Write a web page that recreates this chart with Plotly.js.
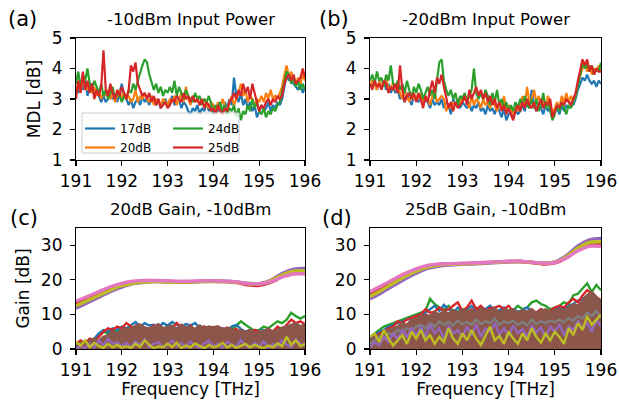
<!DOCTYPE html>
<html><head><meta charset="utf-8">
<script src="https://cdn.plot.ly/plotly-3.0.1.min.js"></script>
<style>html,body{margin:0;padding:0;background:#fff}#plot{width:619px;height:403px}</style>
</head><body><div id="plot"></div>
<script>
// ---------- data ----------
const gainLabels = ['17dB','20dB','24dB','25dB'];
const seriesColors = ['#1f77b4','#ff7f0e','#2ca02c','#d62728'];
const freqFine = Array.from({length:101},(_,i)=>+(191+0.05*i).toFixed(2));   // 0.05 THz grid
const freqMid  = Array.from({length:51},(_,i)=>+(191+0.1*i).toFixed(2));     // 0.1 THz grid
const freqCoarse = Array.from({length:21},(_,i)=>+(191+0.25*i).toFixed(2));  // 0.25 THz grid

// (a) MDL, -10 dBm input
const mdlA_17 = [3.4,3.2,3.5,3.3,3.6,3.1,3.4,3.5,3.2,3.3,3.1, 2.9,3.1,2.9,3.0,3.2,3.0,3.1,2.9,3.2,3.5, 3.1,3.0,2.8,3.0,2.7,2.9,3.0,2.8,3.1,2.9, 3.0,2.8,3.1,2.9,2.8,3.0,2.7,2.9,3.0,2.8, 2.9,3.1,2.8,2.9,3.0,2.7,2.9,2.8,2.6,2.5, 2.7,2.6,2.8,2.5,2.7,2.6,2.9,2.6,2.8,2.5, 2.7,2.6,2.8,2.5,2.9,2.7,3.0,2.8,3.7,3.1, 2.9,3.2,2.8,3.0,2.7,2.9,2.6,2.8,2.4,2.6, 2.8,2.6,2.7,2.9,2.6,2.8,2.7,2.9,2.8,3.0, 3.4,3.8,3.6,3.7,3.5,3.4,3.3,3.5,3.2,3.4];
const mdlA_20 = [3.3,3.5,3.2,3.6,3.4,3.3,3.5,3.2,3.4,3.1,3.3, 3.0,3.2,3.1,3.3,3.0,3.2,2.9,3.1,3.3,3.0, 3.2,3.0,3.1,2.9,3.0,3.3,2.9,3.1,3.0,3.2, 3.0,2.9,3.1,2.8,3.0,2.9,2.8,3.0,2.9,2.8, 3.0,2.9,3.1,2.8,3.0,3.2,2.9,3.4,3.0,2.8, 3.1,2.9,3.0,2.8,2.9,3.0,2.8,2.7,2.9,2.8, 2.6,2.9,2.7,3.0,2.8,2.6,2.9,3.1,2.8,3.0, 3.2,3.5,3.1,3.3,2.9,3.1,3.0,2.8,3.0,2.9, 3.1,2.9,3.2,3.0,3.3,3.0,3.1,3.0,3.2,3.4, 3.8,4.1,3.7,3.9,3.6,3.5,3.7,3.5,3.8,3.6];
const mdlA_24 = [3.5,3.9,3.4,3.8,3.6,4.0,3.5,3.3,3.6,3.4,3.2, 3.5,3.1,3.3,3.0,3.2,3.4,3.0,3.2,3.1,2.9, 3.1,3.0,3.3,3.2,3.5,3.3,3.6,3.9,4.1,4.3, 4.2,3.8,3.5,3.3,3.5,3.2,3.4,3.1,3.3,3.2, 3.4,3.2,3.6,3.1,3.4,3.2,3.0,3.3,3.1,3.0, 2.9,3.2,3.0,3.1,2.8,3.0,2.9,3.1,2.8,2.6, 2.8,2.7,2.9,2.6,2.8,2.5,2.7,2.6,2.8,2.4, 2.7,2.3,2.6,2.5,2.8,2.6,3.0,2.7,2.9,2.6, 2.5,2.7,2.4,2.6,2.5,2.7,2.6,2.8,2.9,3.2, 3.6,3.9,3.8,3.5,3.7,3.4,3.6,3.3,3.5,3.3];
const mdlA_25 = [3.0,3.6,3.2,3.9,3.3,3.6,3.2,3.5,3.0,3.3,3.1, 3.4,4.6,3.3,3.1,3.5,3.2,3.0,3.3,3.1,3.4, 3.2,3.0,3.3,4.1,3.9,4.2,3.5,3.3,3.1,3.2, 3.0,3.2,2.9,3.1,2.8,3.0,2.7,2.8,2.9,2.7, 2.8,3.0,2.9,3.1,3.0,2.9,3.2,3.0,3.1,2.9, 3.1,2.9,3.0,2.8,3.0,2.7,2.9,2.8,2.6,2.7, 2.5,2.8,2.6,2.5,2.7,2.6,2.9,3.0,3.2,3.0, 3.3,3.1,3.5,3.2,3.4,3.0,3.5,3.2,2.8,2.6, 2.8,2.7,2.9,3.0,2.8,3.0,2.9,3.1,3.0,3.1, 3.5,3.7,3.8,3.6,3.8,3.5,3.6,3.7,4.0,3.7];

// (b) MDL, -20 dBm input
const mdlB_17 = [3.5,3.4,3.6,3.3,3.5,3.4,3.6,3.3,3.5,3.2,3.4, 3.2,3.3,3.0,3.1,2.9,3.2,3.0,2.8,3.1,3.0, 2.9,3.1,2.8,3.0,2.9,2.7,3.0,2.8,2.9,2.8, 3.0,2.7,2.9,2.8,2.5,3.0,2.8,2.9,2.7,2.9, 2.8,2.7,2.9,2.6,2.8,2.7,2.9,2.6,2.7,2.5, 2.8,2.6,2.7,2.5,2.8,2.6,2.4,2.7,2.3,2.5, 2.6,2.4,2.7,2.5,2.6,2.8,2.6,3.0,2.7,3.3, 2.8,2.6,2.9,2.7,2.5,2.8,2.6,2.7,2.4,2.6, 2.7,2.5,2.8,2.6,2.8,2.7,2.9,2.8,3.0,3.3, 3.5,3.7,3.6,3.8,3.6,3.5,3.6,3.4,3.6,3.5];
const mdlB_20 = [3.4,3.6,3.5,3.3,3.6,3.4,3.5,3.7,3.3,3.4,3.5, 3.3,3.5,3.2,3.0,3.3,3.1,2.9,3.2,3.0,3.1, 3.0,3.2,2.9,3.1,3.0,2.8,3.1,3.2,2.9,3.0, 3.1,3.0,2.6,2.8,2.7,2.9,2.8,3.0,2.8,3.1, 3.0,2.9,2.7,3.1,2.8,3.0,2.9,2.7,3.0,2.8, 2.9,2.7,3.0,2.8,2.6,2.9,2.7,3.1,2.6,2.8, 2.7,2.5,2.8,2.6,2.9,3.1,2.8,3.4,2.9,3.0, 3.3,2.9,3.1,2.8,3.0,2.7,3.1,2.9,2.5,2.7, 2.9,2.7,3.1,2.9,3.2,2.9,3.1,2.9,3.1,3.5, 3.8,4.0,4.2,3.9,4.1,3.8,4.0,3.9,4.1,3.9];
const mdlB_24 = [3.6,3.8,3.5,3.9,3.6,3.7,3.4,3.8,3.6,4.1,3.5, 3.4,3.6,3.3,3.5,3.2,3.6,3.3,3.0,3.4,3.2, 3.5,3.3,3.0,3.2,3.4,3.1,3.3,3.0,3.6,4.2, 4.3,3.6,3.3,3.1,3.3,3.0,3.2,2.8,3.1,3.0, 3.2,2.9,3.1,3.3,4.0,3.2,3.0,3.2,3.0,3.3, 3.1,2.8,3.2,2.9,3.3,2.8,3.0,2.7,2.9,2.6, 2.8,2.6,2.9,2.7,3.0,2.8,3.1,2.8,2.7,3.0, 2.7,3.0,2.6,2.8,3.2,2.7,2.9,2.6,2.3,2.5, 2.8,2.6,2.9,2.7,2.5,2.8,2.7,2.9,3.1,3.4, 3.8,4.2,4.0,4.2,3.9,4.1,3.8,4.0,3.9,4.2];
const mdlB_25 = [3.5,3.3,3.6,3.4,3.5,3.3,3.6,3.5,3.2,3.4,3.3, 3.5,3.2,4.1,3.3,2.9,3.1,3.2,3.0,3.2,2.9, 3.2,3.0,2.7,3.1,2.9,3.3,3.6,3.2,3.7,3.5, 3.8,3.4,3.0,2.7,2.9,2.6,2.9,2.7,2.8,2.9, 3.1,2.8,3.3,3.0,3.2,3.4,3.1,3.3,3.0,3.2, 2.9,3.1,2.8,3.0,2.7,2.9,2.6,2.8,2.5,2.7, 2.5,2.3,2.6,2.8,2.6,2.9,2.7,3.0,2.8,2.7, 2.9,2.6,2.8,3.0,2.7,2.9,2.8,3.0,2.4,2.6, 2.8,2.7,2.9,2.8,3.0,2.9,2.8,3.0,3.2,3.6, 4.0,4.3,4.1,4.3,3.9,4.1,3.8,4.0,3.9,3.9];

// (c) 20 dB gain, -10 dBm: mode gains (0.25 THz grid)
const gainC_purple = [11.8,13.4,15.0,16.6,17.9,18.9,19.3,19.5,19.4,19.4,19.4,19.5,19.6,19.6,19.4,19.0,18.9,19.9,21.8,23.1,23.3];
const gainC_red    = [13.2,14.7,16.2,17.7,18.8,19.4,19.6,19.7,19.6,19.5,19.5,19.6,19.6,19.5,19.2,18.6,18.4,19.3,20.9,22.0,22.2];
const gainC_olive  = [12.5,14.0,15.5,17.0,18.3,19.0,19.4,19.5,19.4,19.4,19.4,19.5,19.5,19.5,19.3,18.9,18.8,19.7,21.4,22.5,22.6];
const gainC_pink   = [13.8,15.2,16.6,18.0,19.0,19.6,19.8,19.8,19.7,19.6,19.6,19.7,19.7,19.6,19.4,18.9,18.8,19.5,20.8,21.7,21.7];
// (c) crosstalk (0.1 THz grid)
const xtC_green  = [1.0,2.0,1.2,2.5,3.0,4.0,5.0,4.5,5.5,5.0,6.0, 5.5,6.5,6.0,5.5,6.2,5.8,6.5,6.0,5.5,6.2, 5.8,6.0,5.5,6.3,5.2,5.8,6.0,5.5,5.0,5.6, 5.2,5.8,5.0,5.5,6.8,8.0,7.0,6.0,5.2,5.5, 6.5,6.0,7.0,8.0,7.5,8.5,10.5,9.5,8.8,9.5];
const xtC_blue   = [0.5,1.5,1.0,2.0,3.0,4.5,5.5,5.0,6.0,5.5,6.5, 6.0,7.0,7.8,6.5,7.5,6.8,7.0,6.2,7.5,6.8, 7.8,7.0,6.5,7.2,6.8,7.5,6.0,6.5,5.8,6.2, 5.5,6.0,5.2,6.5,7.0,5.8,5.0,5.5,4.8,5.2, 5.5,4.8,5.2,6.0,5.5,6.2,6.8,7.2,6.5,7.0];
const xtC_red    = [1.5,2.5,1.8,3.0,2.5,3.5,5.0,6.0,5.5,6.5,6.0, 7.5,6.5,6.0,7.0,6.2,5.8,6.8,6.0,5.5,6.2, 6.0,7.5,6.2,5.5,6.8,5.2,6.0,6.5,5.8,6.3, 6.5,5.8,6.0,5.2,5.8,4.5,5.0,4.2,5.5,5.0, 4.5,5.8,5.0,6.5,5.5,7.0,8.5,7.5,8.0,7.2];
const xtC_brown  = [1.0,2.0,1.5,2.5,3.0,2.5,3.5,4.0,5.0,4.5,5.5, 6.0,5.5,6.8,7.0,6.2,5.8,6.5,7.2,6.0,6.5, 6.8,5.8,7.0,6.2,6.5,5.8,6.8,6.0,6.5,6.2, 6.5,5.5,6.2,5.8,5.0,5.5,4.8,5.5,4.5,5.0, 5.2,5.8,5.0,5.5,6.2,6.5,7.0,7.5,6.5,7.2];
const xtC_purple = [0.2,0.8,0.3,1.5,0.5,2.5,1.0,3.0,1.5,2.0,0.8, 1.8,0.5,2.2,1.0,2.8,0.6,1.5,2.0,0.4,1.2, 2.5,0.8,1.8,0.5,2.2,1.0,0.3,1.6,2.4,0.7, 1.5,0.4,2.0,1.2,0.6,2.6,1.0,0.3,1.8,0.8, 2.2,0.5,1.4,0.9,2.5,1.2,0.6,2.8,1.5,0.9];
const xtC_olive  = [2.0,1.0,2.5,0.5,1.8,0.8,0.3,1.5,0.5,1.2,0.4, 0.8,0.3,1.5,0.6,2.5,1.2,0.2,0.8,0.5,1.5, 0.6,1.8,0.3,1.0,0.5,1.6,0.8,0.2,1.2,0.5, 0.9,1.8,0.4,1.2,0.3,0.8,1.5,0.5,1.2,0.6, 0.3,1.0,0.5,1.6,0.8,3.5,1.2,2.5,0.8,1.5];

// (d) 25 dB gain, -10 dBm: mode gains
const gainD_purple = [14.5,16.3,18.3,20.2,21.9,23.3,24.0,24.3,24.5,24.6,24.8,25.0,25.2,25.3,25.1,24.8,25.2,27.0,29.8,31.6,32.0];
const gainD_red    = [15.8,17.6,19.5,21.3,22.8,23.9,24.4,24.6,24.7,24.8,25.0,25.2,25.3,25.3,25.0,24.6,24.9,26.4,28.8,30.3,30.4];
const gainD_olive  = [15.2,17.0,19.0,20.9,22.5,23.7,24.3,24.5,24.6,24.7,24.9,25.1,25.3,25.3,25.1,24.8,25.1,26.7,29.2,30.8,31.0];
const gainD_pink   = [16.6,18.3,20.1,21.8,23.2,24.2,24.6,24.7,24.8,24.9,25.0,25.2,25.4,25.4,25.1,24.8,25.0,26.3,28.4,29.7,29.7];
// (d) crosstalk
const xtD_green  = [3.5,4.5,5.5,6.5,7.0,7.5,8.0,8.5,9.0,9.5,10.0, 10.5,11.0,14.5,13.0,12.0,11.5,12.5,11.0,10.8,11.5, 11.0,10.5,11.8,10.8,11.2,12.0,10.5,11.0,11.5,11.0, 11.2,12.5,11.5,12.0,13.5,14.0,13.0,12.5,11.5,12.0, 12.5,13.5,13.0,15.5,16.0,17.5,19.0,16.5,18.5,17.0];
const xtD_blue   = [3.0,4.0,5.0,5.5,6.5,7.0,7.5,8.0,8.5,9.0,9.5, 10.0,10.5,11.5,12.5,11.0,12.8,11.5,10.5,12.0,11.0, 11.5,12.5,11.0,12.0,11.5,12.5,10.5,11.2,12.0,11.0, 11.5,10.8,11.2,12.0,11.0,10.5,11.5,11.0,10.8,11.5, 12.0,11.5,12.5,13.0,14.0,14.5,15.5,15.0,14.0,13.5];
const xtD_red    = [2.5,3.5,4.5,5.0,6.0,6.5,8.0,7.5,8.5,9.0,9.5, 10.0,11.5,10.5,10.8,12.0,11.0,11.5,12.5,13.5,11.0, 12.0,14.0,11.5,12.5,11.0,11.8,12.0,12.5,11.5,12.5, 11.0,10.0,8.5,10.5,11.0,10.5,11.5,10.8,11.0,12.0, 12.5,12.0,13.5,14.5,13.5,15.5,17.0,16.0,15.0,14.0];
const xtD_brown  = [2.5,3.5,4.0,5.0,5.5,6.0,6.5,7.5,7.0,8.5,8.8, 9.5,10.0,9.5,10.8,10.0,11.0,10.2,11.2,10.5,11.5, 10.8,11.5,10.5,11.8,10.8,11.2,11.8,10.5,11.5,11.0, 11.5,10.5,11.2,10.8,11.5,10.5,11.0,11.5,10.8,11.2, 11.5,11.0,12.0,13.0,12.5,14.0,15.5,16.5,15.0,14.0];
const xtD_gray   = [1.5,2.5,3.5,3.0,4.5,4.0,5.5,5.0,6.0,5.5,6.5, 7.0,6.0,7.5,6.5,8.0,7.0,7.8,6.8,8.2,7.2, 7.8,7.0,8.5,7.2,8.0,7.5,8.8,7.0,8.0,7.5, 8.2,7.0,7.8,6.8,8.5,7.2,8.0,7.5,8.2,7.8, 8.5,7.8,9.0,8.2,9.5,8.8,10.5,9.5,11.0,9.0];
const xtD_purple = [0.5,2.0,1.0,3.5,2.0,4.5,3.0,5.5,3.5,6.0,4.0, 6.5,3.5,7.0,4.5,6.0,3.0,6.8,4.5,5.5,3.5, 6.5,4.0,7.2,3.5,6.0,5.0,7.5,4.2,6.0,3.8, 6.8,4.5,5.8,3.2,7.0,4.8,6.2,3.5,6.5,5.0, 7.2,4.0,6.5,5.5,8.0,6.0,7.5,5.0,8.5,6.5];
const xtD_olive  = [3.5,4.5,2.0,5.5,3.0,1.0,2.5,4.0,1.5,5.0,3.0, 5.5,2.5,4.0,1.5,3.5,2.0,6.0,3.0,1.5,4.5, 2.5,5.5,3.0,1.2,4.0,6.5,2.5,3.8,1.5,5.0, 3.0,1.5,4.5,2.5,6.0,3.5,1.8,4.5,2.5,5.0, 3.5,1.5,6.0,4.0,7.5,5.5,9.5,7.0,8.5,10.0];

const panelTitles = ['-10dBm Input Power','-20dBm Input Power','20dB Gain, -10dBm','25dB Gain, -10dBm'];
const panelLabels = ['(a)','(b)','(c)','(d)'];
const xTicks = [191,192,193,194,195,196];

// ---------- traces ----------
const C = {blue:'#1f77b4',orange:'#ff7f0e',green:'#2ca02c',red:'#d62728',purple:'#9467bd',brown:'#8c564b',pink:'#e377c2',gray:'#7f7f7f',olive:'#bcbd22'};
const traces = [];
const mdlA = [mdlA_17,mdlA_20,mdlA_24,mdlA_25];
const mdlB = [mdlB_17,mdlB_20,mdlB_24,mdlB_25];
const legendOf = ['legend','legend','legend2','legend2'];
mdlA.forEach((v,i)=>traces.push({x:freqFine,y:v,xaxis:'x',yaxis:'y',type:'scatter',mode:'lines',name:gainLabels[i],
  line:{color:seriesColors[i],width:2.2},legend:legendOf[i],showlegend:true,hoverinfo:'skip'}));
mdlB.forEach((v,i)=>traces.push({x:freqFine,y:v,xaxis:'x2',yaxis:'y2',type:'scatter',mode:'lines',name:gainLabels[i],
  line:{color:seriesColors[i],width:2.2},showlegend:false,hoverinfo:'skip'}));

function addXt(ax,ay,y,color,fill){
  const t={x:freqMid,y:y,xaxis:ax,yaxis:ay,type:'scatter',mode:'lines',line:{color:color,width:2.4},showlegend:false,hoverinfo:'skip'};
  if(fill){t.fill='tozeroy';t.fillcolor=color;}
  traces.push(t);
}
function addGain(ax,ay,y,color){
  traces.push({x:freqCoarse,y:y,xaxis:ax,yaxis:ay,type:'scatter',mode:'lines',line:{color:color,width:3.4,shape:'spline'},showlegend:false,hoverinfo:'skip'});
}
// (c)
addXt('x3','y3',xtC_green,C.green);
addXt('x3','y3',xtC_blue,C.blue);
addXt('x3','y3',xtC_red,C.red);
addXt('x3','y3',xtC_brown,C.brown,true);
addXt('x3','y3',xtC_purple,C.purple);
addXt('x3','y3',xtC_olive,C.olive);
addGain('x3','y3',gainC_purple,C.purple);
addGain('x3','y3',gainC_red,C.red);
addGain('x3','y3',gainC_olive,C.olive);
addGain('x3','y3',gainC_pink,C.pink);
// (d)
addXt('x4','y4',xtD_green,C.green);
addXt('x4','y4',xtD_blue,C.blue);
addXt('x4','y4',xtD_red,C.red);
addXt('x4','y4',xtD_brown,C.brown,true);
addXt('x4','y4',xtD_gray,C.gray);
addXt('x4','y4',xtD_purple,C.purple);
addXt('x4','y4',xtD_olive,C.olive);
addGain('x4','y4',gainD_purple,C.purple);
addGain('x4','y4',gainD_red,C.red);
addGain('x4','y4',gainD_olive,C.olive);
addGain('x4','y4',gainD_pink,C.pink);

// ---------- layout ----------
const W=619,H=403;
const px=v=>v/W, py=v=>1-v/H;
const F='DejaVu Sans, Arial, sans-serif';
const axBase={showline:true,mirror:true,linecolor:'#000',linewidth:1.1,ticks:'outside',ticklen:5,tickwidth:1.1,tickcolor:'#000',
  showgrid:false,zeroline:false,tickfont:{family:F,size:17,color:'#000'}};
const xAx=(dom,anchor,title)=>Object.assign({},axBase,{domain:dom,anchor:anchor,range:[191,196],tickvals:xTicks,ticktext:xTicks.map(String),
  ticklabelstandoff:0,title:title?{text:title,font:{family:F,size:17,color:'#000'},standoff:4}:{text:''}});
const yAx=(dom,anchor,range,tv,title)=>Object.assign({},axBase,{domain:dom,anchor:anchor,range:range,tickvals:tv,ticktext:tv.map(String),
  ticklabelstandoff:4,title:title?{text:title,font:{family:F,size:17,color:'#000'},standoff:6}:{text:''}});

const colL=[px(76),px(305)], colR=[px(370),px(601)];
const rowT=[py(160),py(38)], rowB=[py(349),py(228)];

const annotations=[];
const titlePos=[[190.5,31],[485.5,31],[190.5,221],[485.5,221]];
panelTitles.forEach((t,i)=>annotations.push({text:t,xref:'paper',yref:'paper',x:px(titlePos[i][0]),y:py(titlePos[i][1]),
  xanchor:'center',yanchor:'bottom',showarrow:false,font:{family:F,size:16.5,color:'#000'}}));
const labelPos=[[22,19],[334,19],[24,218],[337,218]];
panelLabels.forEach((t,i)=>annotations.push({text:t,xref:'paper',yref:'paper',x:px(labelPos[i][0]),y:py(labelPos[i][1]),
  xanchor:'center',yanchor:'middle',showarrow:false,font:{family:F,size:21,color:'#000'}}));

const legendBase={bgcolor:'rgba(0,0,0,0)',borderwidth:0,font:{family:F,size:12,color:'#000'},orientation:'v',
  xanchor:'left',yanchor:'top',itemwidth:30,tracegroupgap:0,itemclick:false,itemdoubleclick:false};

const layout={
  width:W,height:H,margin:{l:0,r:0,t:0,b:0},paper_bgcolor:'#fff',plot_bgcolor:'#fff',
  xaxis:xAx(colL,'y',null), yaxis:yAx(rowT,'x',[1,5],[1,2,3,4,5],'MDL [dB]'),
  xaxis2:xAx(colR,'y2',null), yaxis2:yAx(rowT,'x2',[1,5],[1,2,3,4,5],null),
  xaxis3:xAx(colL,'y3','Frequency [THz]'), yaxis3:yAx(rowB,'x3',[0,35],[0,10,20,30],'Gain [dB]'),
  xaxis4:xAx(colR,'y4','Frequency [THz]'), yaxis4:yAx(rowB,'x4',[0,35],[0,10,20,30],null),
  annotations:annotations,
  shapes:[{type:'rect',xref:'paper',yref:'paper',x0:px(82),x1:px(239),y0:py(153),y1:py(113),layer:'above',
    fillcolor:'rgba(255,255,255,0.8)',line:{color:'#cccccc',width:1}}],
  legend:Object.assign({},legendBase,{x:px(80),y:py(114)}),
  legend2:Object.assign({},legendBase,{x:px(168),y:py(114)}),
  showlegend:true
};
Plotly.newPlot('plot',traces,layout,{staticPlot:true,displayModeBar:false});
</script></body></html>
